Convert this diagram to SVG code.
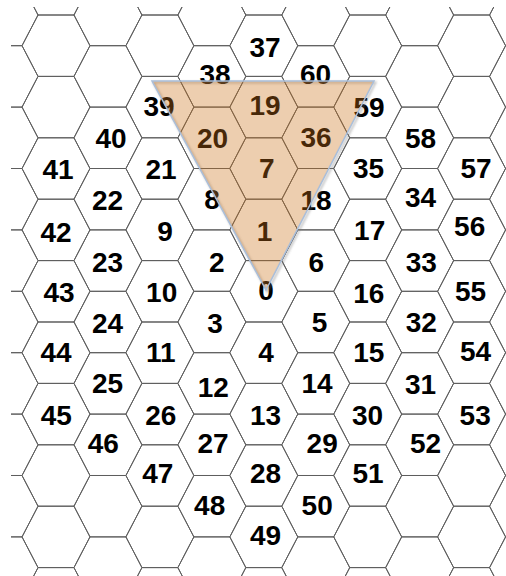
<svg xmlns="http://www.w3.org/2000/svg" xmlns:xlink="http://www.w3.org/1999/xlink" width="506" height="576" viewBox="0 0 506 576">
<style>
.hx{fill:none;stroke:#5e5e5e;stroke-width:1}
text{font-family:"Liberation Sans",Arial,Helvetica,sans-serif;font-weight:bold;font-size:28px;text-anchor:middle;fill:#000}
.tri{fill:#CC741A;fill-opacity:0.35;stroke:#A9BEDA;stroke-width:1.5;stroke-linejoin:miter}
.sh{fill:none;stroke:#777;stroke-opacity:0.45;stroke-width:2}
</style>
<defs>
<polygon id="hx" class="hx" points="-34,0 -18,-30.7 18,-30.7 34,0 18,30.7 -18,30.7"/>
<clipPath id="clip"><rect x="11" y="7" width="495" height="569"/></clipPath>
<filter id="blur" x="-10%" y="-10%" width="120%" height="120%"><feGaussianBlur stdDeviation="1.2"/></filter>
</defs>
<rect width="506" height="576" fill="#fff"/>
<g clip-path="url(#clip)">
<g id="grid">
<use href="#hx" x="4.05" y="15"/><use href="#hx" x="4.05" y="76.4"/><use href="#hx" x="4.05" y="137.8"/><use href="#hx" x="4.05" y="199.2"/><use href="#hx" x="4.05" y="260.6"/><use href="#hx" x="4.05" y="322"/><use href="#hx" x="4.05" y="383.4"/><use href="#hx" x="4.05" y="444.8"/><use href="#hx" x="4.05" y="506.2"/><use href="#hx" x="4.05" y="567.6"/>
<use href="#hx" x="56" y="-15.7"/><use href="#hx" x="56" y="45.7"/><use href="#hx" x="56" y="107.1"/><use href="#hx" x="56" y="475.5"/><use href="#hx" x="56" y="536.9"/><use href="#hx" x="56" y="598.3"/>
<use href="#hx" x="107.95" y="15"/><use href="#hx" x="107.95" y="76.4"/><use href="#hx" x="107.95" y="506.2"/><use href="#hx" x="107.95" y="567.6"/>
<use href="#hx" x="159.9" y="-15.7"/><use href="#hx" x="159.9" y="45.7"/><use href="#hx" x="159.9" y="536.9"/><use href="#hx" x="159.9" y="598.3"/>
<use href="#hx" x="211.85" y="15"/><use href="#hx" x="211.85" y="567.6"/>
<use href="#hx" x="263.8" y="-15.7"/><use href="#hx" x="263.8" y="598.3"/>
<use href="#hx" x="315.75" y="15"/><use href="#hx" x="315.75" y="567.6"/>
<use href="#hx" x="367.7" y="-15.7"/><use href="#hx" x="367.7" y="45.7"/><use href="#hx" x="367.7" y="536.9"/><use href="#hx" x="367.7" y="598.3"/>
<use href="#hx" x="419.65" y="15"/><use href="#hx" x="419.65" y="76.4"/><use href="#hx" x="419.65" y="506.2"/><use href="#hx" x="419.65" y="567.6"/>
<use href="#hx" x="471.6" y="-15.7"/><use href="#hx" x="471.6" y="45.7"/><use href="#hx" x="471.6" y="107.1"/><use href="#hx" x="471.6" y="475.5"/><use href="#hx" x="471.6" y="536.9"/><use href="#hx" x="471.6" y="598.3"/>
<use href="#hx" x="523.55" y="15"/><use href="#hx" x="523.55" y="76.4"/><use href="#hx" x="523.55" y="137.8"/><use href="#hx" x="523.55" y="199.2"/><use href="#hx" x="523.55" y="260.6"/><use href="#hx" x="523.55" y="322"/><use href="#hx" x="523.55" y="383.4"/><use href="#hx" x="523.55" y="444.8"/><use href="#hx" x="523.55" y="506.2"/><use href="#hx" x="523.55" y="567.6"/>
</g>
<g id="nodes">
<g id="n41"><use href="#hx" x="56" y="168.5"/><text x="58" y="179">41</text></g>
<g id="n42"><use href="#hx" x="56" y="229.9"/><text x="56" y="241.7">42</text></g>
<g id="n43"><use href="#hx" x="56" y="291.3"/><text x="59" y="301.7">43</text></g>
<g id="n44"><use href="#hx" x="56" y="352.7"/><text x="56" y="361.7">44</text></g>
<g id="n45"><use href="#hx" x="56" y="414.1"/><text x="56.3" y="425">45</text></g>

<g id="n40"><use href="#hx" x="107.95" y="137.8"/><text x="111" y="148">40</text></g>
<g id="n22"><use href="#hx" x="107.95" y="199.2"/><text x="107.5" y="210">22</text></g>
<g id="n23"><use href="#hx" x="107.95" y="260.6"/><text x="107.5" y="271.7">23</text></g>
<g id="n24"><use href="#hx" x="107.95" y="322"/><text x="107.5" y="333">24</text></g>
<g id="n25"><use href="#hx" x="107.95" y="383.4"/><text x="107.5" y="393">25</text></g>
<g id="n46"><use href="#hx" x="107.95" y="444.8"/><text x="103.3" y="453.3">46</text></g>

<g id="n39"><use href="#hx" x="159.9" y="107.1"/><text x="159" y="116">39</text></g>
<g id="n21"><use href="#hx" x="159.9" y="168.5"/><text x="161" y="179">21</text></g>
<g id="n9"><use href="#hx" x="159.9" y="229.9"/><text x="165" y="241">9</text></g>
<g id="n10"><use href="#hx" x="159.9" y="291.3"/><text x="161.7" y="301.7">10</text></g>
<g id="n11"><use href="#hx" x="159.9" y="352.7"/><text x="160.8" y="361.7">11</text></g>
<g id="n26"><use href="#hx" x="159.9" y="414.1"/><text x="160.8" y="425">26</text></g>
<g id="n47"><use href="#hx" x="159.9" y="475.5"/><text x="157.8" y="483.3">47</text></g>

<g id="n38"><use href="#hx" x="211.85" y="76.4"/><text x="215" y="84">38</text></g>
<g id="n20"><use href="#hx" x="211.85" y="137.8"/><text x="212.5" y="148">20</text></g>
<g id="n8"><use href="#hx" x="211.85" y="199.2"/><text x="212" y="209">8</text></g>
<g id="n2"><use href="#hx" x="211.85" y="260.6"/><text x="216.7" y="271.7">2</text></g>
<g id="n3"><use href="#hx" x="211.85" y="322"/><text x="215" y="333">3</text></g>
<g id="n12"><use href="#hx" x="211.85" y="383.4"/><text x="213.3" y="396.7">12</text></g>
<g id="n27"><use href="#hx" x="211.85" y="444.8"/><text x="213" y="453.3">27</text></g>
<g id="n48"><use href="#hx" x="211.85" y="506.2"/><text x="209.7" y="515">48</text></g>

<g id="n37"><use href="#hx" x="263.8" y="45.7"/><text x="265" y="56.7">37</text></g>
<g id="n19"><use href="#hx" x="263.8" y="107.1"/><text x="265" y="115">19</text></g>
<g id="n7"><use href="#hx" x="263.8" y="168.5"/><text x="266.7" y="177.8">7</text></g>
<g id="n1"><use href="#hx" x="263.8" y="229.9"/><text x="264.5" y="241">1</text></g>
<g id="n0"><use href="#hx" x="263.8" y="291.3"/><text x="266" y="299.5">0</text></g>
<g id="n4"><use href="#hx" x="263.8" y="352.7"/><text x="266" y="361.7">4</text></g>
<g id="n13"><use href="#hx" x="263.8" y="414.1"/><text x="265.5" y="425">13</text></g>
<g id="n28"><use href="#hx" x="263.8" y="475.5"/><text x="265.5" y="483.3">28</text></g>
<g id="n49"><use href="#hx" x="263.8" y="536.9"/><text x="265.5" y="545">49</text></g>

<g id="n60"><use href="#hx" x="315.75" y="76.4"/><text x="315.5" y="84">60</text></g>
<g id="n36"><use href="#hx" x="315.75" y="137.8"/><text x="316" y="147">36</text></g>
<g id="n18"><use href="#hx" x="315.75" y="199.2"/><text x="316" y="210">18</text></g>
<g id="n6"><use href="#hx" x="315.75" y="260.6"/><text x="316.3" y="271.7">6</text></g>
<g id="n5"><use href="#hx" x="315.75" y="322"/><text x="319.5" y="331.7">5</text></g>
<g id="n14"><use href="#hx" x="315.75" y="383.4"/><text x="317" y="393.3">14</text></g>
<g id="n29"><use href="#hx" x="315.75" y="444.8"/><text x="322.2" y="453.3">29</text></g>
<g id="n50"><use href="#hx" x="315.75" y="506.2"/><text x="317.2" y="515">50</text></g>

<g id="n59"><use href="#hx" x="367.7" y="107.1"/><text x="369" y="117">59</text></g>
<g id="n35"><use href="#hx" x="367.7" y="168.5"/><text x="368.5" y="178">35</text></g>
<g id="n17"><use href="#hx" x="367.7" y="229.9"/><text x="369.7" y="240">17</text></g>
<g id="n16"><use href="#hx" x="367.7" y="291.3"/><text x="368.8" y="302.5">16</text></g>
<g id="n15"><use href="#hx" x="367.7" y="352.7"/><text x="368.8" y="361.7">15</text></g>
<g id="n30"><use href="#hx" x="367.7" y="414.1"/><text x="367.5" y="425">30</text></g>
<g id="n51"><use href="#hx" x="367.7" y="475.5"/><text x="368" y="483.3">51</text></g>

<g id="n58"><use href="#hx" x="419.65" y="137.8"/><text x="420.5" y="148">58</text></g>
<g id="n34"><use href="#hx" x="419.65" y="199.2"/><text x="420.5" y="207">34</text></g>
<g id="n33"><use href="#hx" x="419.65" y="260.6"/><text x="421.3" y="271.7">33</text></g>
<g id="n32"><use href="#hx" x="419.65" y="322"/><text x="421.3" y="331.7">32</text></g>
<g id="n31"><use href="#hx" x="419.65" y="383.4"/><text x="420.5" y="394">31</text></g>
<g id="n52"><use href="#hx" x="419.65" y="444.8"/><text x="425.5" y="453.3">52</text></g>

<g id="n57"><use href="#hx" x="471.6" y="168.5"/><text x="476" y="178">57</text></g>
<g id="n56"><use href="#hx" x="471.6" y="229.9"/><text x="469.7" y="235.8">56</text></g>
<g id="n55"><use href="#hx" x="471.6" y="291.3"/><text x="470.5" y="300.8">55</text></g>
<g id="n54"><use href="#hx" x="471.6" y="352.7"/><text x="475.5" y="360.8">54</text></g>
<g id="n53"><use href="#hx" x="471.6" y="414.1"/><text x="475.2" y="425">53</text></g>
</g>
</g>
<g id="highlight">
<polygon class="sh" filter="url(#blur)" points="153.5,82.5 375.5,82.5 267.5,291.5"/>
<polygon class="tri" points="152,81 374,81 266,290"/>
</g>
</svg>
